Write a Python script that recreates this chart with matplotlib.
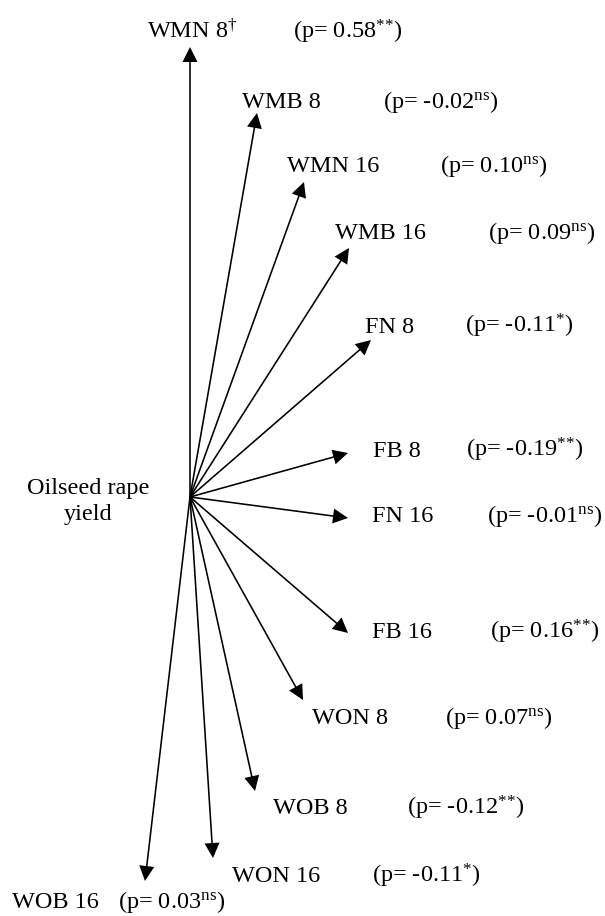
import matplotlib
matplotlib.use("Agg")
import matplotlib.pyplot as plt

plt.rcParams['font.family'] = ['Liberation Serif', 'DejaVu Serif']
plt.rcParams['mathtext.fontset'] = 'custom'
plt.rcParams['mathtext.rm'] = 'Liberation Serif'
plt.rcParams['mathtext.it'] = 'Liberation Serif:italic'
plt.rcParams['mathtext.bf'] = 'Liberation Serif:bold'

# vector names, their components (tip relative to the yield origin) and correlations
names = ['WMN 8', 'WMB 8', 'WMN 16', 'WMB 16', 'FN 8', 'FB 8',
         'FN 16', 'FB 16', 'WON 8', 'WOB 8', 'WON 16', 'WOB 16']
vec_x = [0, 67, 114, 159, 181, 158, 158, 158, 113, 65, 23, -45]
vec_y = [450, 384, 315, 249, 157, 44, -21, -136, -203, -294, -361, -384]
p_values = ['0.58', '-0.02', '0.10', '0.09', '-0.11', '-0.19',
            '-0.01', '0.16', '0.07', '-0.12', '-0.11', '0.03']
signif = ['**', 'ns', 'ns', 'ns', '*', '**', 'ns', '**', 'ns', '**', '*', 'ns']
name_marks = ['†', '', '', '', '', '', '', '', '', '', '', '']

# layout: where the labels sit (left edge x, baseline y)
name_x = [-43, 52, 97, 145, 175, 183, 182, 182, 122, 83, 42, -178]
text_y = [459, 389, 325, 258, 164, 40, -25, -141, -227, -317, -385, -411]
pval_x = [103, 193, 250, 298, 275, 276, 297, 300, 255, 217, 182, -72]

fig = plt.figure(figsize=(6.05, 9.16), dpi=100)
ax = fig.add_axes([0, 0, 1, 1])
ax.set_xlim(-190, 415)
ax.set_ylim(-419, 497)
ax.axis('off')

fs = 17.5
for i in range(len(names)):
    ax.arrow(0, 0, vec_x[i], vec_y[i], width=1.6, head_width=15, head_length=15,
             length_includes_head=True, fc='black', ec='none')
    lab = names[i]
    if name_marks[i]:
        lab = lab + r'$^{\mathrm{' + name_marks[i] + '}}$'
    ax.text(name_x[i], text_y[i], lab, fontsize=fs, ha='left', va='baseline')
    sig = signif[i].replace('*', r'{*}')
    ax.text(pval_x[i], text_y[i], '(p= ' + p_values[i] + r'$^{\mathrm{' + sig + '}}$)',
            fontsize=fs, ha='left', va='baseline')

ax.text(-102, 3, 'Oilseed rape', fontsize=fs, ha='center', va='baseline')
ax.text(-102, -23, 'yield', fontsize=fs, ha='center', va='baseline')

plt.savefig('out.png', dpi=100)
